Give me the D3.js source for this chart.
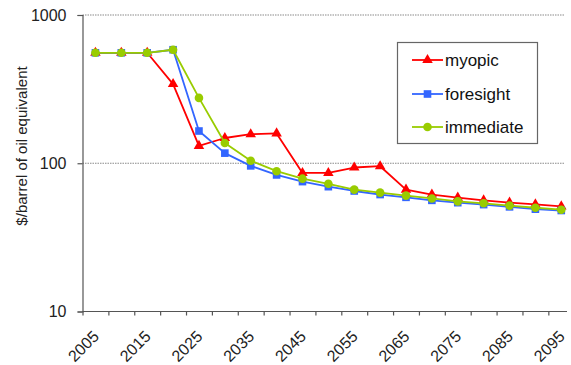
<!DOCTYPE html>
<html>
<head>
<meta charset="utf-8">
<script src="https://cdn.jsdelivr.net/npm/d3@7"></script>
<style>
  html, body { margin: 0; padding: 0; background: #fff; }
  svg { display: block; font-family: "Liberation Sans", Arial, sans-serif; }
</style>
</head>
<body>
<svg id="chart" width="571" height="365"></svg>
<script>
// Five-year periods on the horizontal axis
const years = [2005, 2010, 2015, 2020, 2025, 2030, 2035, 2040, 2045, 2050,
               2055, 2060, 2065, 2070, 2075, 2080, 2085, 2090, 2095];
const yearLabels = ["2005", "2015", "2025", "2035", "2045", "2055", "2065", "2075", "2085", "2095"];

// Price paths, $/barrel of oil equivalent
const myopic    = [556, 556, 556, 342, 131, 148, 157, 159, 86, 86, 93.6, 95.5, 66.4, 61.5, 58.6, 56.2, 54.2, 52.8, 51.2];
const foresight = [556, 556, 556, 583, 165, 117, 96, 83.4, 75.2, 69.5, 65, 61.5, 58.9, 56.2, 54.2, 52.6, 50.8, 49, 48];
const immediate = [556, 556, 556, 583, 276, 137, 104, 88.4, 78.7, 72.7, 66.4, 63.4, 60.5, 57.9, 55.3, 53.7, 51.8, 50.1, 48.6];

const yTicks = [10, 100, 1000];
const gridValues = [100, 1000];

const seriesList = [
  { name: "myopic",    values: myopic,    color: "#ff0000", shape: "triangle" },
  { name: "foresight", values: foresight, color: "#3366ff", shape: "square" },
  { name: "immediate", values: immediate, color: "#99cc00", shape: "circle" }
];

const svg = d3.select("#chart");
const plotLeft = 82.5, plotTop = 15, plotBottom = 311.5, plotRight = 567;

// category slots: index i occupies [i, i+1], the mark sits at i + 0.5
const x = d3.scaleLinear().domain([0, years.length]).range([plotLeft, plotLeft + 25.88 * years.length]);
const y = d3.scaleLog().domain([10, 1000]).range([plotBottom, plotTop]);

// dotted gridlines
svg.append("g").selectAll("line").data(gridValues).join("line")
  .attr("x1", plotLeft).attr("x2", 565)
  .attr("y1", d => y(d)).attr("y2", d => y(d))
  .attr("stroke", "#8a8a8a").attr("stroke-width", 1.2)
  .attr("stroke-dasharray", "1.5,1");

// y axis
const yAxis = svg.append("g").attr("transform", `translate(${plotLeft},0)`)
  .call(d3.axisLeft(y).tickValues(yTicks).tickFormat(d3.format("d")).tickSize(5).tickPadding(11));
yAxis.select(".domain").attr("stroke", "#555").attr("stroke-width", 1.2);
yAxis.selectAll(".tick line").attr("stroke", "#555").attr("stroke-width", 1.2);
yAxis.selectAll(".tick text").attr("font-size", 16).attr("fill", "#222")
  .attr("font-family", "Liberation Sans, Arial, sans-serif");

// x axis: ticks on category boundaries
const xAxis = svg.append("g").attr("transform", `translate(0,${plotBottom})`)
  .call(d3.axisBottom(x).tickValues(d3.range(0, years.length)).tickFormat("").tickSize(4).tickSizeOuter(0));
xAxis.select(".domain").attr("d", `M${plotLeft},0H${plotRight}`).attr("stroke", "#555").attr("stroke-width", 1.2);
xAxis.selectAll(".tick line").attr("stroke", "#555").attr("stroke-width", 1.2);

// rotated year labels on every other period
svg.append("g").selectAll("text").data(yearLabels).join("text")
  .attr("transform", d => {
    const i = years.indexOf(+d);
    return `translate(${x(i + 0.5) + 4.5},${plotBottom + 26}) rotate(-45)`;
  })
  .attr("text-anchor", "end")
  .attr("font-size", 16).attr("fill", "#222")
  .text(d => d);

// y axis title
svg.append("text")
  .attr("transform", `translate(27,146) rotate(-90)`)
  .attr("text-anchor", "middle")
  .attr("font-size", 15).attr("fill", "#222")
  .text("$/barrel of oil equivalent");

const symbolFor = {
  triangle: d3.symbol().type(d3.symbolTriangle).size(48),
  square: d3.symbol().type(d3.symbolSquare).size(58),
  circle: d3.symbol().type(d3.symbolCircle).size(58)
};

const line = d3.line().x((d, i) => x(i + 0.5)).y(d => y(d));

seriesList.forEach(s => {
  const g = svg.append("g");
  g.append("path").datum(s.values)
    .attr("d", line).attr("fill", "none")
    .attr("stroke", s.color).attr("stroke-width", 1.8)
    .attr("stroke-linejoin", "round");
  g.selectAll("path.mk").data(s.values).join("path").attr("class", "mk")
    .attr("transform", (d, i) => `translate(${x(i + 0.5)},${y(d)})`)
    .attr("d", symbolFor[s.shape]())
    .attr("fill", s.color);
});

// legend
const lg = svg.append("g");
lg.append("rect").attr("x", 397.5).attr("y", 42.5).attr("width", 140).attr("height", 101)
  .attr("fill", "#fff").attr("stroke", "#666").attr("stroke-width", 1.2);
const legendRows = [60, 94, 127];
seriesList.forEach((s, k) => {
  const ly = legendRows[k];
  lg.append("line").attr("x1", 412).attr("x2", 443).attr("y1", ly).attr("y2", ly)
    .attr("stroke", s.color).attr("stroke-width", 1.8);
  lg.append("path").attr("transform", `translate(427.5,${ly})`)
    .attr("d", symbolFor[s.shape]()).attr("fill", s.color);
  lg.append("text").attr("x", 445).attr("y", ly).attr("dy", "0.36em")
    .attr("font-size", 17).attr("fill", "#111").text(s.name);
});
</script>
</body>
</html>
